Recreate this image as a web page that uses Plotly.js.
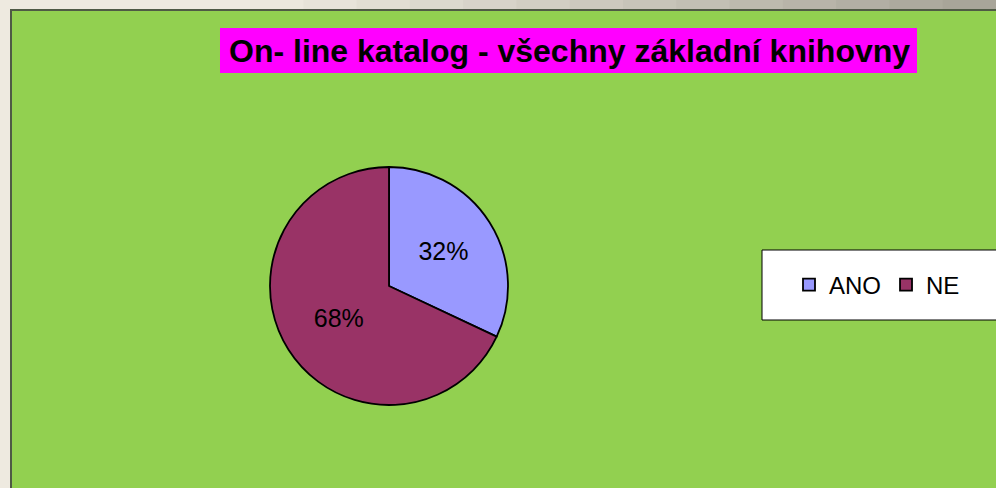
<!DOCTYPE html>
<html>
<head>
<meta charset="utf-8">
<script src="https://cdn.plot.ly/plotly-3.0.1.min.js"></script>
<style>html,body{margin:0;padding:0;background:#EFEBE1;}#chart{width:996px;height:488px;}</style>
</head>
<body>
<div id="chart"></div>
<script>
var categories = ["ANO", "NE"];
var values = [32, 68];
var colors = ["#9999FF", "#993366"];
var chartTitle = "On- line katalog - všechny základní knihovny";

var W = 996, H = 488;
function px(x){ return x / W; }
function py(y){ return 1 - y / H; }

var trace = {
  type: "pie",
  labels: categories,
  values: values,
  sort: false,
  direction: "clockwise",
  rotation: 0,
  marker: {colors: colors, line: {color: "#000000", width: 1.8}},
  textinfo: "percent",
  textposition: "inside",
  insidetextorientation: "horizontal",
  texttemplate: "%{percent:.0%}",
  textfont: {family: "Liberation Sans, Arial, sans-serif", size: 25, color: "#000000"},
  hoverinfo: "none",
  domain: {x: [px(270), px(508)], y: [py(405), py(167)]}
};

// decorative top strip gradient (beige -> gray)
var strip = [];
var nSteps = 14, xs = 250, xe = 996;
var c0 = [236, 232, 222], c1 = [168, 165, 153];
for (var i = 0; i < nSteps; i++) {
  var t = i / (nSteps - 1);
  var c = c0.map(function(v, k){ return Math.round(v + (c1[k] - v) * t); });
  strip.push({type: "rect", xref: "paper", yref: "paper",
    x0: px(xs + (xe - xs) * i / nSteps), x1: px(xs + (xe - xs) * (i + 1) / nSteps + 1),
    y0: py(10), y1: py(-2), fillcolor: "rgb(" + c.join(",") + ")", line: {width: 0}, layer: "below"});
}

var layout = {
  width: W, height: H,
  margin: {l: 0, r: 0, t: 0, b: 0},
  paper_bgcolor: "#EEEAE0",
  showlegend: true,
  legend: {
    orientation: "h",
    x: px(789), xanchor: "left",
    y: py(285), yanchor: "middle",
    bgcolor: "rgba(0,0,0,0)",
    borderwidth: 0,
    font: {family: "Liberation Sans, Arial, sans-serif", size: 24, color: "#000000"},
    traceorder: "normal"
  },
  shapes: strip.concat([
    {type: "rect", xref: "paper", yref: "paper", x0: px(11), x1: px(1000), y0: py(492), y1: py(10), fillcolor: "#92D050", line: {color: "#4F5A45", width: 2}, layer: "below"},
    {type: "rect", xref: "paper", yref: "paper", x0: px(220), x1: px(917), y0: py(73), y1: py(28), fillcolor: "#FF00FF", line: {width: 0}, layer: "below"},
    {type: "rect", xref: "paper", yref: "paper", x0: px(762), x1: px(1000), y0: py(320), y1: py(250), fillcolor: "#FFFFFF", line: {color: "#000000", width: 1}, layer: "below"}
  ]),
  annotations: [
    {text: "<b>" + chartTitle + "</b>", xref: "paper", yref: "paper", x: px(569), y: py(51), xanchor: "center", yanchor: "middle", showarrow: false,
     font: {family: "Liberation Sans, Arial, sans-serif", size: 32, color: "#000000"}}
  ]
};

Plotly.newPlot("chart", [trace], layout, {displayModeBar: false, staticPlot: true});
</script>
</body>
</html>
